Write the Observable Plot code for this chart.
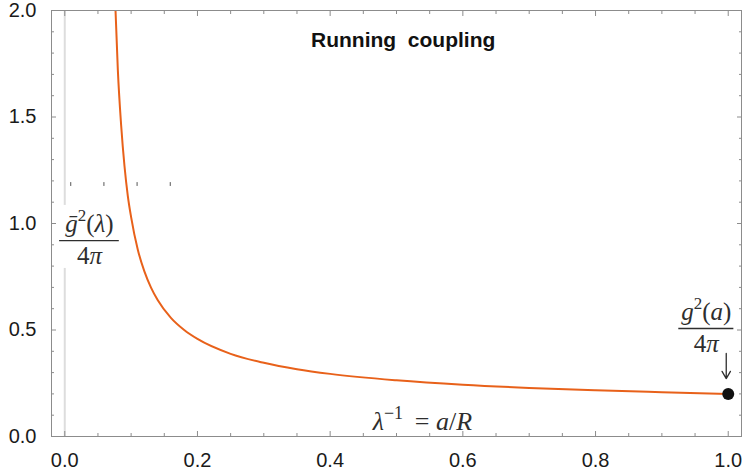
<!DOCTYPE html>
<html><head><meta charset="utf-8">
<script src="https://cdn.jsdelivr.net/npm/d3@7"></script>
<script src="https://cdn.jsdelivr.net/npm/@observablehq/plot@0.6"></script>
<style>
body{margin:0;background:#fff}
#chart{width:742px;height:475px}
</style>
</head><body><div id="chart"></div>
<script>
// ---- data ----
const curveX = [0.075, 0.0765, 0.08, 0.085, 0.09, 0.095, 0.1, 0.11, 0.12, 0.13, 0.14, 0.16, 0.18, 0.2, 0.25, 0.3, 0.35, 0.4, 0.5, 0.6, 0.7, 0.8, 0.9, 1.0];
const curveY = [2.14, 2.0, 1.72, 1.46, 1.27, 1.13, 1.03, 0.878, 0.775, 0.699, 0.641, 0.557, 0.500, 0.458, 0.388, 0.346, 0.316, 0.294, 0.264, 0.243, 0.228, 0.217, 0.208, 0.200];
const pointX = [1.0];
const pointY = [0.2];
const xMajor = [0, 0.2, 0.4, 0.6, 0.8, 1.0];
const xMinor = [0.05, 0.1, 0.15, 0.25, 0.3, 0.35, 0.45, 0.5, 0.55, 0.65, 0.7, 0.75, 0.85, 0.9, 0.95];
const yMajor = [0, 0.5, 1.0, 1.5, 2.0];
const yMinor = [0.1, 0.2, 0.3, 0.4, 0.6, 0.7, 0.8, 0.9, 1.1, 1.2, 1.3, 1.4, 1.6, 1.7, 1.8, 1.9];
const strayTickX = [0.009, 0.059, 0.109, 0.159];
const strayTickY = 1.183;
const titleText = "Running\u00a0 coupling";
const fracLabels = [
  {x: 0.0372, y: 0.920, num: "ḡ2(λ)", den: "4π"},
  {x: 0.967, y: 0.507, num: "g2(a)", den: "4π"}
];
const axisLabel = {x: 0.539, y: 0.07, text: "λ−1 = a/R"};
const arrowMark = {x: 0.997, y1: 0.39, y2: 0.272};

// rich text parts (italic / superscript)
const rich = new Map([
  ["ḡ2(λ)", [["ḡ","i"],["2","sup"],["(",""],["λ","i"],[")",""]]],
  ["g2(a)", [["g","i"],["2","sup"],["(",""],["a","i"],[")",""]]],
  ["4π", [["4",""],["π","i"]]],
  ["λ−1 = a/R", [["λ","i"],["−1","sup"],["\u00a0\u2009=\u00a0",""],["a","i"],["/",""],["R","i"]]]
]);

const curve = curveX.map((x, i) => ({x, y: curveY[i]}));
const points = pointX.map((x, i) => ({x, y: pointY[i]}));

const frameGray = "#8c8c8c";
const mathFont = "Liberation Serif, Times New Roman, serif";
const mathColor = "#2e2e2e";

const chart = Plot.plot({
  width: 742, height: 475,
  marginLeft: 51, marginRight: 1, marginTop: 10, marginBottom: 39,
  style: {fontFamily: "Liberation Sans, Arial, sans-serif", background: "#fff"},
  x: {domain: [-0.02, 1.02]},
  y: {domain: [0, 2]},
  marks: [
    Plot.ruleX([0], {stroke: "#dddddd", strokeWidth: 2}),
    Plot.rect([fracLabels[0]], {x1: d => d.x - 0.047, x2: d => d.x + 0.05, y1: d => d.y - 0.131, y2: d => d.y + 0.165, fill: "white"}),
    Plot.ruleX(strayTickX, {x: d => d, y1: strayTickY - 0.009, y2: strayTickY + 0.009, stroke: "#555", strokeWidth: 1}),
    Plot.line(curve, {x: "x", y: "y", stroke: "#e8611a", strokeWidth: 2, curve: "monotone-x", clip: true}),
    Plot.dot(points, {x: "x", y: "y", r: 6, fill: "#111", stroke: "none"}),
    // frame & ticks
    Plot.frame({stroke: frameGray}),
    Plot.axisX(xMajor, {anchor: "bottom", tickSize: -5, fill: "none", stroke: frameGray, label: null}),
    Plot.axisX(xMinor, {anchor: "bottom", tickSize: -3, fill: "none", stroke: frameGray, label: null}),
    Plot.axisX(xMajor, {anchor: "top", tickSize: -5, fill: "none", stroke: frameGray, label: null}),
    Plot.axisX(xMinor, {anchor: "top", tickSize: -3, fill: "none", stroke: frameGray, label: null}),
    Plot.axisY(yMajor, {anchor: "left", tickSize: -5, fill: "none", stroke: frameGray, label: null}),
    Plot.axisY(yMinor, {anchor: "left", tickSize: -3, fill: "none", stroke: frameGray, label: null}),
    Plot.axisY(yMajor, {anchor: "right", tickSize: -5, fill: "none", stroke: frameGray, label: null}),
    Plot.axisY(yMinor, {anchor: "right", tickSize: -3, fill: "none", stroke: frameGray, label: null}),
    // tick labels
    Plot.axisX(xMajor, {anchor: "bottom", tickSize: 0, tickPadding: 16, tickFormat: d3.format(".1f"), fontSize: 20, fill: "#1a1a1a", label: null}),
    Plot.axisY(yMajor, {anchor: "left", tickSize: 0, tickPadding: 15, tickFormat: d3.format(".1f"), fontSize: 20, fill: "#1a1a1a", label: null}),
    // title
    Plot.text([titleText], {x: 0.51, y: 1.862, text: d => d, fontWeight: "bold", fontSize: 21, fill: "#111"}),
    // fraction labels
    Plot.text(fracLabels, {x: "x", y: "y", text: "num", dy: -17, fontSize: 25, fontFamily: mathFont, fill: mathColor}),
    Plot.ruleY(fracLabels, {y: "y", x1: (d, i) => d.x - (i === 0 ? 0.045 : 0.0415), x2: (d, i) => d.x + (i === 0 ? 0.045 : 0.0415), stroke: mathColor, strokeWidth: 1.3}),
    Plot.text(fracLabels, {x: "x", y: "y", text: "den", dy: 15, fontSize: 25, fontFamily: mathFont, fill: mathColor}),
    Plot.text([axisLabel], {x: "x", y: "y", text: "text", fontSize: 26, fontFamily: mathFont, fill: mathColor}),
    Plot.arrow([arrowMark], {x: "x", y1: "y1", y2: "y2", stroke: mathColor, strokeWidth: 1.3, headLength: 13, headAngle: 60})
  ]
});

// rebuild math labels with italic / superscript tspans
d3.select(chart).selectAll("text").each(function() {
  const t = this.textContent;
  if (!rich.has(t)) return;
  const fs = parseFloat(this.getAttribute("font-size") || (this.parentNode && this.parentNode.getAttribute("font-size")) || 25) || 25;
  const sel = d3.select(this);
  sel.text(null);
  let shifted = false;
  for (const [s, kind] of rich.get(t)) {
    const ts = sel.append("tspan").text(s);
    if (kind === "i") ts.attr("font-style", "italic");
    if (kind === "sup") {
      ts.attr("font-size", Math.round(fs * 0.68)).attr("dy", -fs * 0.42);
      shifted = true;
    } else if (shifted) {
      ts.attr("dy", fs * 0.42);
      shifted = false;
    }
  }
});

document.getElementById("chart").appendChild(chart);
</script>
</body></html>
